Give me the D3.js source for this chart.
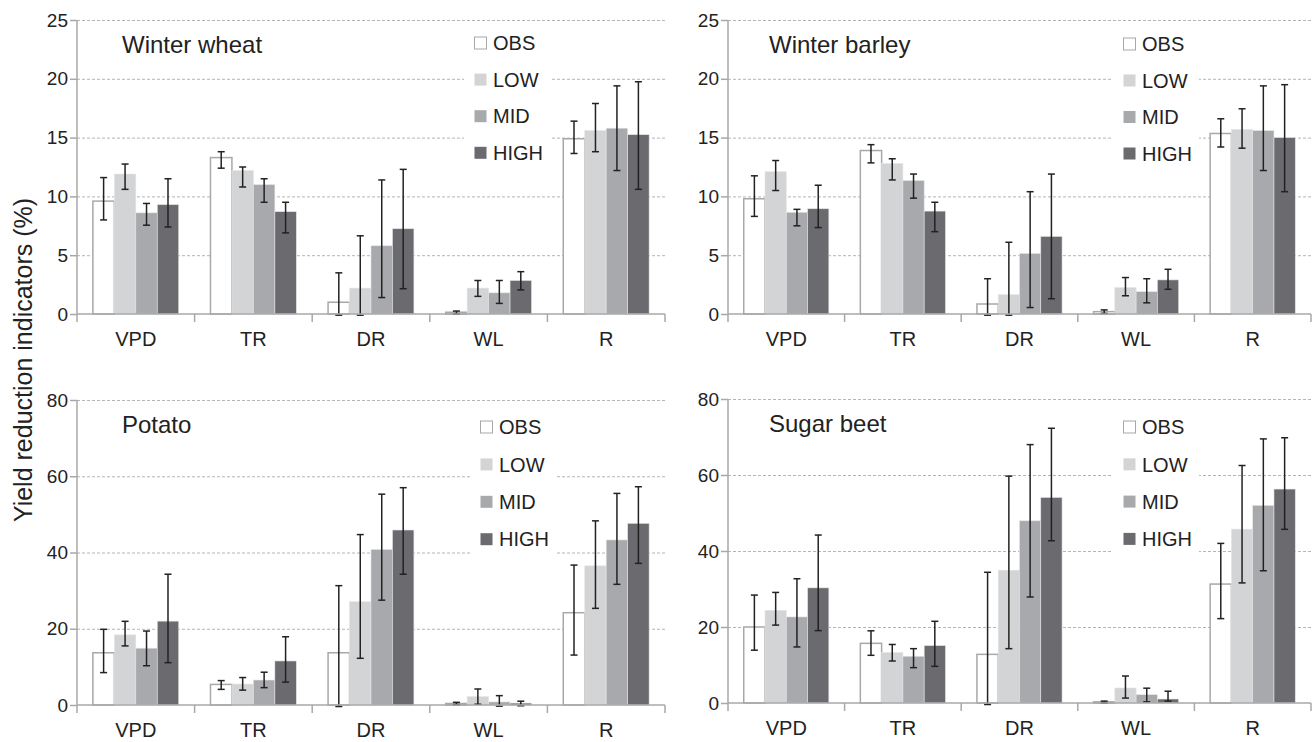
<!DOCTYPE html>
<meta charset="utf-8">
<style>
body { margin: 0; background: #fff; }
svg { font-family: "Liberation Sans", Arial, Helvetica, sans-serif; }
.grid line { stroke: #b4b4b4; stroke-dasharray: 3,2; }
.grid path { display: none; }
.yaxis path, .yaxis line, .xline, .xtick { stroke: #a8a8a8; stroke-width: 1.5px; }
.yaxis text { fill: #222; font-size: 19px; }
.xlab { fill: #222; font-size: 20px; }
.title { fill: #222; font-size: 24px; }
.leg text { fill: #222; font-size: 20px; }
.err { stroke: #222; stroke-width: 1.5px; }
</style>
<svg width="1312" height="742"></svg>
<script src="https://d3js.org/d3.v7.min.js"></script>
<script>

var categories = ["VPD", "TR", "DR", "WL", "R"];
var series = ["OBS", "LOW", "MID", "HIGH"];
var colors = ["#ffffff", "#d3d4d6", "#a8a9ac", "#6b6a6f"];

// rows = series (OBS, LOW, MID, HIGH), columns = categories
var wheatMean = [[9.6, 13.3, 1.0, 0.15, 14.9], [11.9, 12.2, 2.2, 2.2, 15.6], [8.6, 11.0, 5.8, 1.8, 15.8], [9.3, 8.7, 7.25, 2.85, 15.25]];
var wheatLo   = [[8.0, 12.4, -0.1, 0.0, 13.65], [10.6, 10.8, -0.1, 1.5, 13.8], [7.55, 9.5, 1.4, 0.9, 12.2], [7.4, 6.9, 2.15, 2.05, 10.6]];
var wheatHi   = [[11.6, 13.8, 3.5, 0.25, 16.4], [12.75, 12.5, 6.65, 2.85, 17.9], [9.4, 11.5, 11.4, 2.85, 19.4], [11.5, 9.5, 12.3, 3.6, 19.75]];

var barleyMean = [[9.8, 13.9, 0.85, 0.2, 15.35], [12.1, 12.8, 1.65, 2.25, 15.7], [8.65, 11.35, 5.15, 1.9, 15.6], [8.95, 8.75, 6.6, 2.9, 15.0]];
var barleyLo   = [[8.3, 12.85, -0.1, 0.05, 14.2], [10.5, 11.4, -0.1, 1.55, 14.1], [7.5, 9.85, 0.55, 0.95, 12.2], [7.35, 7.0, 1.3, 2.1, 10.4]];
var barleyHi   = [[11.75, 14.4, 3.0, 0.35, 16.6], [13.05, 13.2, 6.1, 3.1, 17.45], [8.9, 11.9, 10.4, 3.0, 19.4], [10.95, 9.5, 11.9, 3.8, 19.5]];

var potatoMean = [[13.7, 5.4, 13.7, 0.4, 24.2], [18.4, 5.5, 27.1, 2.2, 36.5], [14.9, 6.55, 40.8, 0.8, 43.3], [22.0, 11.55, 45.9, 0.5, 47.65]];
var potatoLo   = [[8.5, 4.1, -0.4, 0.1, 13.1], [15.5, 3.9, 12.25, 0.2, 25.35], [10.3, 4.55, 27.5, -0.3, 31.65], [11.1, 6.0, 34.3, -0.2, 37.15]];
var potatoHi   = [[19.85, 6.4, 31.3, 0.7, 36.7], [21.95, 7.2, 44.7, 4.2, 48.3], [19.4, 8.6, 55.3, 2.45, 55.5], [34.3, 17.9, 57.0, 1.0, 57.25]];

var beetMean = [[20.0, 15.7, 12.8, 0.3, 31.3], [24.4, 13.3, 34.95, 3.95, 45.75], [22.65, 12.3, 47.95, 2.2, 52.0], [30.3, 15.1, 54.1, 1.05, 56.3]];
var beetLo   = [[13.9, 12.55, -0.4, 0.0, 22.2], [20.5, 11.05, 14.3, 1.3, 31.6], [14.75, 9.3, 27.9, 0.3, 34.8], [19.05, 9.65, 42.7, 0.5, 45.7]];
var beetHi   = [[28.4, 19.0, 34.4, 0.5, 42.0], [29.1, 15.4, 59.7, 7.1, 62.5], [32.7, 14.3, 68.0, 3.9, 69.5], [44.2, 21.5, 72.3, 3.1, 69.8]];

var topTicks = [0, 5, 10, 15, 20, 25];
var bottomTicks = [0, 20, 40, 60, 80];

var svg = d3.select("svg");

var panels = [
  {title: "Winter wheat",  mean: wheatMean,  lo: wheatLo,  hi: wheatHi,  ticks: topTicks,    x0: 77,  x1: 665,  top: 20,  bottom: 314, legX: 397, legY: 23, legStep: 36.6},
  {title: "Winter barley", mean: barleyMean, lo: barleyLo, hi: barleyHi, ticks: topTicks,    x0: 728, x1: 1311, top: 20,  bottom: 314, legX: 395, legY: 24, legStep: 36.5},
  {title: "Potato",        mean: potatoMean, lo: potatoLo, hi: potatoHi, ticks: bottomTicks, x0: 77,  x1: 665,  top: 400, bottom: 705, legX: 403, legY: 27, legStep: 37.4},
  {title: "Sugar beet",    mean: beetMean,   lo: beetLo,   hi: beetHi,   ticks: bottomTicks, x0: 728, x1: 1311, top: 399, bottom: 703, legX: 395, legY: 28, legStep: 37.3}
];

panels.forEach(function(p) {
  var g = svg.append("g");
  var w = p.x1 - p.x0;

  var x = d3.scaleBand().domain(categories).range([p.x0, p.x1]).padding(0);
  var groupW = x.bandwidth() * 0.73;
  var xs = d3.scaleBand().domain(series)
      .range([(x.bandwidth() - groupW) / 2, (x.bandwidth() + groupW) / 2]).padding(0);
  var y = d3.scaleLinear().domain([0, d3.max(p.ticks)]).range([p.bottom, p.top]);

  // dashed grid
  g.append("g")
      .attr("class", "grid")
      .attr("transform", "translate(" + p.x0 + ",0)")
      .call(d3.axisLeft(y).tickValues(p.ticks.slice(1)).tickSize(-w).tickFormat(""));

  // legend background hides the grid
  var leg = g.append("g").attr("class", "leg")
      .attr("transform", "translate(" + (p.x0 + p.legX) + "," + (p.top + p.legY) + ")");
  leg.append("rect")
      .attr("x", -10).attr("y", -16)
      .attr("width", 86).attr("height", p.legStep * 3 + 32)
      .attr("fill", "#fff");
  series.forEach(function(s, i) {
    leg.append("rect")
        .attr("x", 0.5).attr("y", i * p.legStep - 6)
        .attr("width", 12).attr("height", 12)
        .attr("fill", colors[i])
        .attr("stroke", i == 0 ? "#a8a8a8" : "none");
    leg.append("text")
        .attr("x", 19).attr("y", i * p.legStep)
        .attr("dy", "0.36em")
        .text(s);
  });

  // bars
  series.forEach(function(s, i) {
    g.append("g").selectAll("rect")
      .data(categories)
      .enter().append("rect")
        .attr("x", function(c) { return x(c) + xs(s); })
        .attr("y", function(c, j) { return y(p.mean[i][j]); })
        .attr("width", xs.bandwidth())
        .attr("height", function(c, j) { return y(0) - y(p.mean[i][j]); })
        .attr("fill", colors[i])
        .attr("stroke", i == 0 ? "#a8a8a8" : "#e4e4e4")
        .attr("stroke-width", i == 0 ? 1.5 : 0.6);
  });

  // error bars
  series.forEach(function(s, i) {
    var eg = g.append("g").attr("class", "err");
    categories.forEach(function(c, j) {
      var cx = x(c) + xs(s) + xs.bandwidth() / 2;
      var lo = y(p.lo[i][j]), hi = y(p.hi[i][j]);
      eg.append("line").attr("x1", cx).attr("x2", cx).attr("y1", lo).attr("y2", hi);
      eg.append("line").attr("x1", cx - 3.5).attr("x2", cx + 3.5).attr("y1", lo).attr("y2", lo);
      eg.append("line").attr("x1", cx - 3.5).attr("x2", cx + 3.5).attr("y1", hi).attr("y2", hi);
    });
  });

  // y axis
  var ya = g.append("g")
      .attr("class", "yaxis")
      .attr("transform", "translate(" + p.x0 + ",0)")
      .call(d3.axisLeft(y).tickValues(p.ticks).tickSize(7).tickSizeOuter(0).tickPadding(2));
  ya.select(".domain").remove();
  ya.selectAll("text").attr("font-family", null).attr("font-size", null);
  g.append("line").attr("class", "xline")
      .attr("x1", p.x0).attr("x2", p.x0)
      .attr("y1", p.top).attr("y2", p.bottom + 8);

  // x axis
  g.append("line").attr("class", "xline")
      .attr("x1", p.x0).attr("x2", p.x1)
      .attr("y1", p.bottom).attr("y2", p.bottom);
  g.selectAll(".xtick")
    .data(categories.slice(1).concat(["end"]))
    .enter().append("line")
      .attr("class", "xtick")
      .attr("x1", function(c) { return c == "end" ? p.x1 : x(c); })
      .attr("x2", function(c) { return c == "end" ? p.x1 : x(c); })
      .attr("y1", p.bottom).attr("y2", p.bottom + 8);
  g.selectAll(".xlab")
    .data(categories)
    .enter().append("text")
      .attr("class", "xlab")
      .attr("x", function(c) { return x(c) + x.bandwidth() / 2; })
      .attr("y", p.bottom + 25)
      .attr("dy", "0.36em")
      .attr("text-anchor", "middle")
      .text(function(c) { return c; });

  g.append("text")
      .attr("class", "title")
      .attr("x", p.x0 + (p.x0 < 100 ? 45 : 41))
      .attr("y", p.top + 33)
      .text(p.title);
});

svg.append("text")
    .attr("transform", "translate(32,360) rotate(-90)")
    .attr("text-anchor", "middle")
    .attr("fill", "#222")
    .attr("font-size", "25px")
    .text("Yield reduction indicators (%)");

</script>
